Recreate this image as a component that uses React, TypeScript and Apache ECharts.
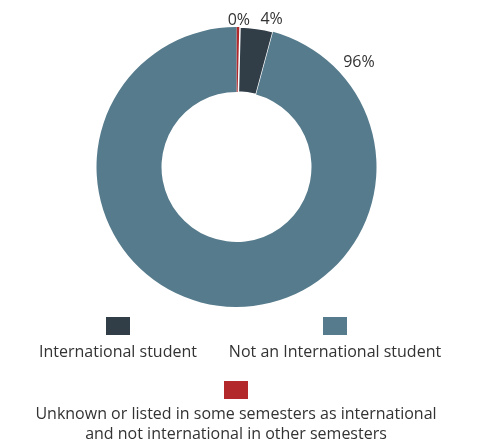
import React, { useEffect, useRef } from "react";
import * as echarts from "echarts";

// Data
const categories = [
  "International student",
  "Not an International student",
  "Unknown or listed in some semesters as international\nand not international in other semesters",
];
const shares = [3.8, 95.8, 0.4];
const colors = ["#313e48", "#557b8c", "#b3282a"];
// Pie draws clockwise from 12 o'clock in this order
const pieOrder = [2, 0, 1];

// Label placement (angle from 12 o'clock in degrees, radius in px) per pie slot
const labelAngles = [0.9, 13.3, 49.1];
const labelRadii = [148, 152.6, 162];

const FONT = "Open Sans";
const TEXT_COLOR = "#333333";

export default function App() {
  const ref = useRef<HTMLDivElement>(null);
  useEffect(() => {
    if (!ref.current) return;
    const chart = echarts.init(ref.current, undefined, { renderer: "svg" });
    const cx = 236.5;
    const cy = 167;

    const legendPos = [
      { x: 118, boxY: 317, textY: 351 },
      { x: 335, boxY: 317, textY: 351 },
      { x: 236, boxY: 381, textY: 423 },
    ];
    const graphic: any[] = [];
    categories.forEach((name, i) => {
      const p = legendPos[i];
      graphic.push({
        type: "rect",
        shape: { x: p.x - 12, y: p.boxY, width: 24, height: 18 },
        style: { fill: colors[i] },
      });
      graphic.push({
        type: "text",
        style: {
          text: name,
          x: p.x,
          y: p.textY,
          align: "center",
          verticalAlign: "middle",
          fontFamily: FONT,
          fontSize: 16,
          lineHeight: 20,
          fill: TEXT_COLOR,
        },
      });
    });

    chart.setOption({
      animation: false,
      graphic,
      series: [
        {
          type: "pie",
          center: [cx, cy],
          radius: [75, 140],
          startAngle: 90,
          clockwise: true,
          avoidLabelOverlap: false,
          data: pieOrder.map((k) => ({
            name: categories[k],
            value: shares[k],
            itemStyle: {
              color: colors[k],
              borderColor: "#ffffff",
              borderWidth: k === 0 ? 1.5 : 0,
            },
          })),
          label: {
            show: true,
            position: "outside",
            formatter: (p: any) => Math.round(p.percent) + "%",
            fontFamily: FONT,
            fontSize: 16,
            color: TEXT_COLOR,
          },
          labelLine: { show: false },
          labelLayout: (params: any) => {
            const i = params.dataIndex;
            const a = (labelAngles[i] * Math.PI) / 180;
            return {
              x: cx + labelRadii[i] * Math.sin(a),
              y: cy - labelRadii[i] * Math.cos(a),
              align: "center",
              verticalAlign: "middle",
            };
          },
          emphasis: { disabled: true },
        },
      ],
    });
    return () => chart.dispose();
  }, []);
  return (
    <div
      ref={ref}
      style={{ position: "fixed", left: 0, top: 0, width: 481, height: 444 }}
    />
  );
}
